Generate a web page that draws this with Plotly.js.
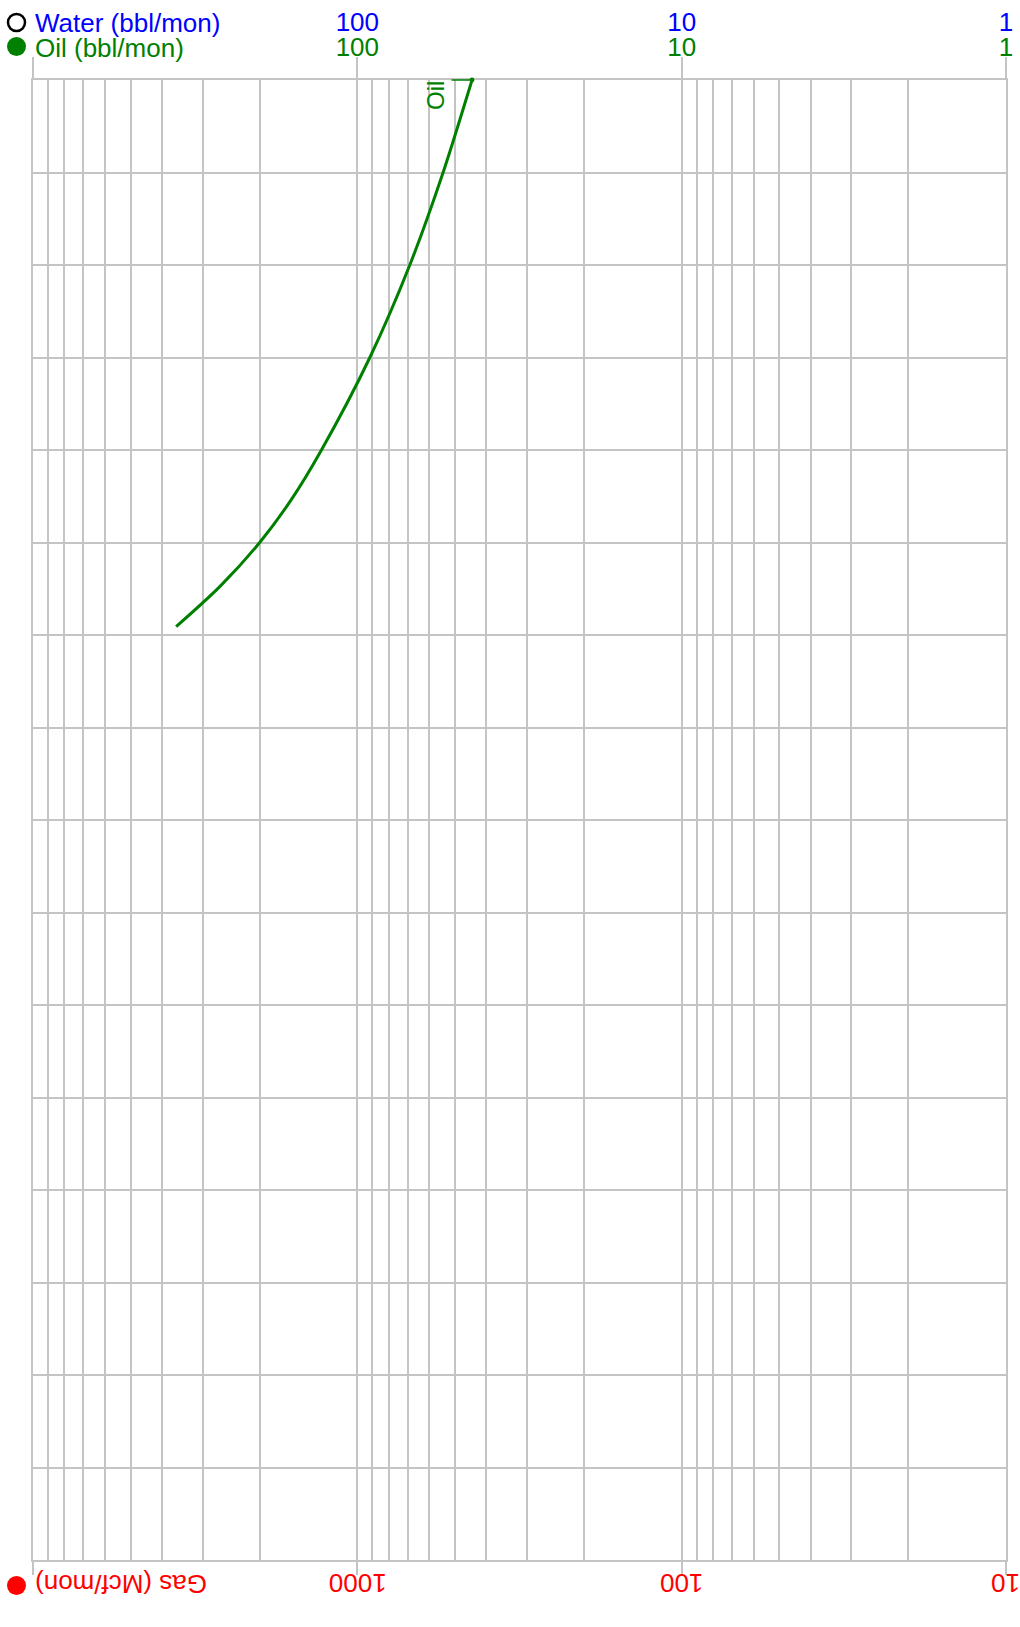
<!DOCTYPE html>
<html>
<head>
<meta charset="utf-8">
<script src="https://cdn.plot.ly/plotly-3.0.1.min.js"></script>
<style>
  html, body { margin: 0; padding: 0; background: #fff; }
  #chart { width: 1020px; height: 1627px; }
</style>
</head>
<body>
<div id="chart"></div>
<script>
// Elapsed time (one unit per horizontal grid band, top = start)
const timeSteps = [0, 1, 2, 3, 4, 4.54, 5, 5.48, 5.91];
// Oil rate, bbl/mon
const oilRate = [44.3, 54.4, 68.9, 91.5, 129, 160, 200, 266, 362];

// Decade ticks for each rate scale
const gasTickVals = [10, 100, 1000, 10000];
const gasTickText = ['10', '100', '1000', ''];
const liquidTickVals = [1, 10, 100, 1000];
const oilTickText = ['1', '10', '100', ''];
const waterTickText = ['1', '10', '100', ''];

// Minor (2..9) positions across the gas range
const gasMinorVals = [];
[10, 100, 1000].forEach(d => { for (let k = 2; k <= 9; k++) gasMinorVals.push(k * d); });

const gridColor = '#c4c4c4';
const fontFamily = '"Liberation Sans", Arial, sans-serif';
const fs = 26;

// Each rate scale gets its own trace slot so its axis is laid out
const traces = [
  { x: [], y: [], xaxis: 'x', yaxis: 'y', mode: 'lines', showlegend: false, hoverinfo: 'skip' },
  {
    x: oilRate,
    y: timeSteps,
    xaxis: 'x2',
    yaxis: 'y',
    mode: 'lines',
    line: { color: '#008000', width: 3, shape: 'spline', smoothing: 0.8 },
    showlegend: false,
    hoverinfo: 'skip'
  },
  { x: [], y: [], xaxis: 'x3', yaxis: 'y', mode: 'lines', showlegend: false, hoverinfo: 'skip' },
  { x: [], y: [], xaxis: 'x4', yaxis: 'y', mode: 'lines', showlegend: false, hoverinfo: 'skip' }
];

const topLabelAxis = (text, color, standoff) => ({
  type: 'log',
  range: [3, 0],
  autorange: false,
  overlaying: 'x',
  side: 'top',
  anchor: 'y',
  tickmode: 'array',
  tickvals: liquidTickVals,
  ticktext: text,
  tickfont: { color: color, size: fs, family: fontFamily },
  ticks: '',
  ticklabelstandoff: standoff,
  showgrid: false,
  showline: false,
  zeroline: false,
  fixedrange: true
});

// Upside-down gas tick labels below the bottom axis
const gasLabelNotes = gasTickVals
  .map((v, i) => ({ v: v, t: gasTickText[i] }))
  .filter(d => d.t !== '')
  .map(d => ({
    text: d.t, xref: 'x', yref: 'paper', x: Math.log10(d.v), y: 0,
    xanchor: 'center', yanchor: 'middle', yshift: -23, textangle: 180, showarrow: false,
    font: { color: '#ff0000', size: fs, family: fontFamily }
  }));

const layout = {
  width: 1020,
  height: 1627,
  margin: { l: 33, r: 14, t: 80, b: 67 },
  paper_bgcolor: '#ffffff',
  plot_bgcolor: '#ffffff',
  font: { family: fontFamily, size: fs },
  showlegend: false,
  // Gas scale along the bottom
  xaxis: {
    type: 'log',
    range: [4, 1],
    autorange: false,
    side: 'bottom',
    anchor: 'y',
    tickmode: 'array',
    tickvals: gasTickVals,
    ticktext: gasTickText,
    showticklabels: false,
    ticks: 'outside',
    ticklen: 13,
    tickwidth: 2,
    tickcolor: gridColor,
    showgrid: true,
    gridcolor: gridColor,
    gridwidth: 2,
    minor: {
      tickmode: 'array',
      tickvals: gasMinorVals,
      showgrid: true,
      gridcolor: gridColor,
      gridwidth: 2,
      ticks: ''
    },
    showline: true,
    linecolor: gridColor,
    linewidth: 2,
    zeroline: false,
    fixedrange: true
  },
  // Oil scale along the top: tick marks only
  xaxis2: {
    type: 'log',
    range: [3, 0],
    autorange: false,
    overlaying: 'x',
    side: 'top',
    anchor: 'y',
    tickmode: 'array',
    tickvals: liquidTickVals,
    showticklabels: false,
    ticks: 'outside',
    ticklen: 21,
    tickwidth: 2,
    tickcolor: gridColor,
    showgrid: false,
    showline: true,
    linecolor: gridColor,
    linewidth: 2,
    zeroline: false,
    fixedrange: true
  },
  // Water labels on the upper row, oil labels just below
  xaxis3: topLabelAxis(waterTickText, '#0000ff', 43),
  xaxis4: topLabelAxis(oilTickText, '#008000', 18),
  yaxis: {
    range: [16, 0],
    autorange: false,
    dtick: 1,
    tick0: 0,
    showticklabels: false,
    ticks: '',
    showgrid: true,
    gridcolor: gridColor,
    gridwidth: 2,
    showline: true,
    mirror: true,
    linecolor: gridColor,
    linewidth: 2,
    zeroline: false,
    fixedrange: true
  },
  shapes: [
    // Series key markers
    { type: 'circle', xref: 'paper', yref: 'paper', xsizemode: 'pixel', ysizemode: 'pixel',
      xanchor: 0, yanchor: 1, x0: -25, x1: -8, y0: 49, y1: 66,
      line: { color: '#000000', width: 2.5 }, fillcolor: 'rgba(0,0,0,0)' },
    { type: 'circle', xref: 'paper', yref: 'paper', xsizemode: 'pixel', ysizemode: 'pixel',
      xanchor: 0, yanchor: 1, x0: -26, x1: -7, y0: 24, y1: 43,
      line: { color: '#008000', width: 0 }, fillcolor: '#008000' },
    { type: 'circle', xref: 'paper', yref: 'paper', xsizemode: 'pixel', ysizemode: 'pixel',
      xanchor: 0, yanchor: 0, x0: -26, x1: -7, y0: -35, y1: -16,
      line: { color: '#ff0000', width: 0 }, fillcolor: '#ff0000' }
  ],
  annotations: [
    { text: 'Water (bbl/mon)', xref: 'paper', yref: 'paper', x: 0, y: 1,
      xanchor: 'left', yanchor: 'middle', yshift: 57, showarrow: false,
      font: { color: '#0000ff', size: fs, family: fontFamily } },
    { text: 'Oil (bbl/mon)', xref: 'paper', yref: 'paper', x: 0, y: 1,
      xanchor: 'left', yanchor: 'middle', yshift: 32, showarrow: false,
      font: { color: '#008000', size: fs, family: fontFamily } },
    { text: 'Gas (Mcf/mon)', xref: 'paper', yref: 'paper', x: 0, y: 0,
      xanchor: 'left', yanchor: 'middle', yshift: -24, textangle: 180, showarrow: false,
      font: { color: '#ff0000', size: fs, family: fontFamily } },
    // Series tag at the start of the oil curve
    { text: 'Oil', xref: 'x2', yref: 'y', x: Math.log10(oilRate[0]), y: timeSteps[0],
      xshift: -37, yshift: -16, textangle: -90, showarrow: false,
      font: { color: '#008000', size: 24, family: fontFamily } },
    { text: '', xref: 'x2', yref: 'y', x: Math.log10(oilRate[0]), y: timeSteps[0],
      showarrow: true, ax: -22, ay: 0, arrowhead: 6, arrowsize: 0.8, arrowwidth: 1.5,
      arrowcolor: '#008000', standoff: 0 }
  ].concat(gasLabelNotes)
};

Plotly.newPlot('chart', traces, layout, { staticPlot: true, displayModeBar: false });
</script>
</body>
</html>
